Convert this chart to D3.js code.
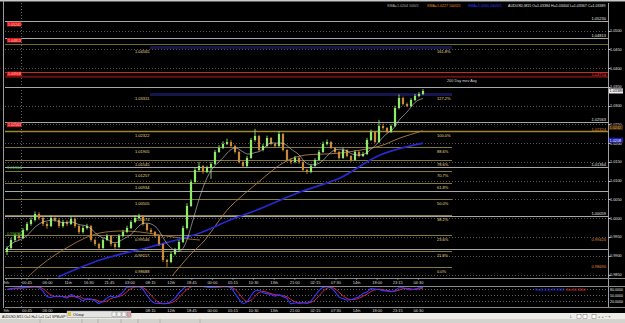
<!DOCTYPE html>
<html><head><meta charset="utf-8">
<script src="https://cdn.jsdelivr.net/npm/d3@7"></script>
<style>
html,body{margin:0;padding:0;background:#000;overflow:hidden}
svg{display:block}
text{font-family:"Liberation Sans",Arial,sans-serif}
</style></head><body>
<svg id="c" width="625" height="323"></svg>
<script>
// ---------- DATA ----------
const firstOpen = 0.99100;
const closes = [0.99206,0.99419,0.99526,0.99473,0.99686,0.99846,0.99952,1.00112,1.00005,0.99846,
0.99792,1.00005,0.99952,0.99792,0.99899,0.99846,0.99979,0.99792,0.99633,0.99739,
0.99792,0.99419,0.99313,0.99206,0.99419,0.99526,0.99313,0.99233,0.99526,0.99633,
0.99739,0.99899,1.00005,1.00059,0.99846,0.99686,0.99633,0.99526,0.99313,0.98887,
0.98833,0.99046,0.99153,0.99366,0.99739,1.00325,1.00965,1.01284,1.01391,1.01231,
1.01337,1.01444,1.01764,1.01870,1.01977,1.02030,1.01924,1.01764,1.01497,1.01391,
1.01604,1.02083,1.02190,1.01817,1.01924,1.02137,1.01977,1.01924,1.02243,1.01817,
1.01551,1.01497,1.01604,1.01497,1.01284,1.01231,1.01391,1.01551,1.01764,1.01977,
1.02030,1.01870,1.01764,1.01604,1.01817,1.01657,1.01551,1.01764,1.01657,1.01710,
1.02083,1.02297,1.02030,1.02456,1.02403,1.02297,1.02456,1.02936,1.03202,1.03042,
1.02989,1.03149,1.03256,1.03309,1.03389];
const highs = [0.9926,0.9948,0.9958,0.9960,0.9974,0.9990,1.0002,1.0018,1.0016,1.0004,
0.9990,1.0007,1.0006,1.0000,0.9996,0.9995,1.0004,1.0002,0.9983,0.9980,
0.9985,0.9982,0.9946,0.9935,0.9947,0.9958,0.9955,0.9934,0.9958,0.9969,
0.9980,0.9995,1.0008,1.0012,1.0008,0.9987,0.9974,0.9966,0.9955,0.9933,
0.9892,0.9910,0.9921,0.9942,0.9980,1.0040,1.0103,1.0135,1.0150,1.0142,
1.0140,1.0150,1.0182,1.0195,1.0205,1.0212,1.0208,1.0196,1.0180,1.0152,
1.0166,1.0214,1.0238,1.0222,1.0198,1.0220,1.0216,1.0201,1.0232,1.0227,
1.0184,1.0160,1.0166,1.0164,1.0152,1.0132,1.0144,1.0160,1.0182,1.0204,
1.0210,1.0206,1.0190,1.0180,1.0188,1.0184,1.0168,1.0182,1.0179,1.0177,
1.0214,1.0236,1.0232,1.0262,1.0252,1.0243,1.0250,1.0300,1.0330,1.0324,
1.0308,1.0320,1.0331,1.0336,1.0344];
const lows = [0.9902,0.9916,0.9937,0.9942,0.9944,0.9965,0.9980,0.9991,0.9995,0.9979,
0.9972,0.9976,0.9990,0.9974,0.9975,0.9979,0.9982,0.9974,0.9958,0.9959,
0.9970,0.9937,0.9926,0.9915,0.9918,0.9939,0.9925,0.9918,0.9920,0.9950,
0.9960,0.9971,0.9987,0.9998,0.9980,0.9964,0.9958,0.9948,0.9926,0.9883,
0.9870,0.9880,0.9901,0.9912,0.9934,0.9970,1.0030,1.0094,1.0124,1.0118,
1.0120,1.0105,1.0142,1.0174,1.0184,1.0195,1.0188,1.0172,1.0146,1.0134,
1.0136,1.0158,1.0204,1.0178,1.0178,1.0189,1.0194,1.0188,1.0190,1.0178,
1.0151,1.0144,1.0146,1.0145,1.0124,1.0118,1.0120,1.0137,1.0153,1.0174,
1.0194,1.0184,1.0172,1.0156,1.0158,1.0162,1.0150,1.0153,1.0162,1.0163,
1.0168,1.0205,1.0200,1.0200,1.0236,1.0226,1.0227,1.0243,1.0290,1.0300,
1.0296,1.0297,1.0312,1.0322,1.0328];

// moving averages: [candle index, price]
const smaSlowIdx   = [41.25,45.75,49.5,52.75,55.75,62,69,73.25,83.25,93.25,98.25,104];
const smaSlowPrice = [0.98460,0.99020,0.99419,0.99899,1.00299,1.00885,1.01471,1.01657,1.01737,1.01924,1.02137,1.02330];
const smaOldIdx    = [5.25,8.25,12,15.75,19.5,23.25,28.25,33.25,38.25,43.25,48.25];
const smaOldPrice  = [0.98434,0.98727,0.99020,0.99260,0.99473,0.99606,0.99659,0.99633,0.99553,0.99473,0.99419];
const sma200Idx    = [12.75,23.25,35.75,48.25,55.75,62.5,73.25,83.25,93.25,104];
const sma200Price  = [0.98434,0.98887,0.99233,0.99606,0.99952,1.00219,1.00698,1.01071,1.01684,1.02003];

const fibPct   = ["0.0%","11.8%","23.6%","38.2%","50.0%","61.8%","70.7%","78.6%","88.6%","100.0%","127.2%","161.8%"];
const fibPrice = [0.98688,0.99117,0.99546,1.00074,1.00505,1.00934,1.01257,1.01545,1.01905,1.02322,1.03311,1.04565];

const srPrice  = [1.05241,1.04813,1.04641,1.03503,1.02563,1.01364,1.00722,1.00059,0.99180];
const srLabel  = ["1.05230","1.04813","","","1.02563","1.01364","","1.00059",""];
const alertPrice = [1.05241,1.04813,1.03918,1.02563];
const redLinePrice = 1.03904, darkRedPrice = 1.03771;
const rightOrangeLabels = ["0.99420","0.98690"];
const rightOrangePrice  = [0.99420,0.98690];
const greenLabels = ["1.01364","0.99695"];
const greenPrice  = [1.01350,0.99600];

const priceTicks = [1.0500,1.0450,1.0400,1.0350,1.0300,1.0250,1.0200,1.0150,1.0100,1.0050,1.0000,0.9950,0.9900,0.9850];
const timeLabels = ["9th","00:45","06:00","11th","16:30","21:45","03:00","08:15","12th","18:45","00:00","05:15","10:30","13th","21:00","02:15","07:30","14th","18:00","23:15","04:30"];
const oscLevels = [80,50,20];

// ---------- SETUP ----------
const svg = d3.select("#c");
const L = 5, R = 608, T = 3, B = 278;
const x = d3.scaleLinear().domain([0,104]).range([7,423]);
const y = d3.scaleLinear().domain([0.98407,1.05733]).range([B,T]);
const oy = d3.scaleLinear().domain([20,80]).range([301,289]);

svg.append("rect").attr("width",625).attr("height",323).attr("fill","#000");
svg.append("rect").attr("x",0).attr("y",0).attr("width",625).attr("height",1.5).attr("fill","#c8c8c8");
svg.append("line").attr("x1",3.5).attr("x2",3.5).attr("y1",1).attr("y2",308).attr("stroke","#9a9a9a");

const g = svg.append("g");
g.selectAll(".grid").data(priceTicks).join("line")
  .attr("x1",L).attr("x2",R).attr("y1",d=>Math.round(y(d))+0.5).attr("y2",d=>Math.round(y(d))+0.5)
  .attr("stroke","#6a6a6a").attr("stroke-dasharray","1,2").attr("stroke-width",0.8);
g.append("line").attr("x1",21.5).attr("x2",21.5).attr("y1",T).attr("y2",307)
  .attr("stroke","#7a7a7a").attr("stroke-dasharray","1,2").attr("stroke-width",0.8);

g.selectAll(".sr").data(srPrice).join("line")
  .attr("x1",L).attr("x2",R).attr("y1",d=>Math.round(y(d))+0.5).attr("y2",d=>Math.round(y(d))+0.5)
  .attr("stroke",(d,i)=> i===2 ? "#6e6a30" : "#a8a8a8").attr("stroke-width",1);

g.append("line").attr("x1",L).attr("x2",R).attr("y1",Math.round(y(redLinePrice))+0.5).attr("y2",Math.round(y(redLinePrice))+0.5)
  .attr("stroke","#d02828").attr("stroke-width",1);
g.append("line").attr("x1",L).attr("x2",R).attr("y1",y(darkRedPrice)).attr("y2",y(darkRedPrice))
  .attr("stroke","#6a1010").attr("stroke-width",2);
g.append("text").attr("x",447).attr("y",y(darkRedPrice)+5).attr("font-size",3.8).attr("fill","#d8d8d8").text("200 Day mov Avg");

fibPrice.forEach((p,i)=>{
  const yy = Math.round(y(p))+0.5;
  const ext = i>=10;
  if (ext) {
    g.append("rect").attr("x",150).attr("y",yy-1.5).attr("width",302).attr("height",3).attr("fill","#16164e");
  } else {
    g.append("line").attr("x1",L).attr("x2",i===9?R:452).attr("y1",yy).attr("y2",yy)
      .attr("stroke", i===9 ? "#a08828" : "#857a3c").attr("stroke-width", i===9?1.4:1);
  }
  g.append("text").attr("x",135).attr("y",yy+5).attr("font-size",4).attr("fill","#e6dc8c").text(p.toFixed(5));
  g.append("text").attr("x",437).attr("y",yy+5).attr("font-size",4).attr("fill","#e6dc8c").text(fibPct[i]);
});

const lineGen = d3.line().x(d=>x(d[0])).y(d=>y(d[1])).curve(d3.curveCatmullRom);
g.append("path").attr("d",lineGen(d3.zip(smaOldIdx,smaOldPrice))).attr("fill","none").attr("stroke","#a87840").attr("stroke-width",0.9);
g.append("path").attr("d",lineGen(d3.zip(smaSlowIdx,smaSlowPrice))).attr("fill","none").attr("stroke","#b08048").attr("stroke-width",0.9);
g.append("path").attr("d",lineGen(d3.zip(sma200Idx,sma200Price))).attr("fill","none").attr("stroke","#2828d0").attr("stroke-width",1.8);

const candles = closes.map((c,i)=>({i, o: i===0?firstOpen:closes[i-1], c, h: highs[i], l: lows[i]}));
const cg = g.append("g");
cg.selectAll(".wick").data(candles).join("line")
  .attr("x1",d=>x(d.i)).attr("x2",d=>x(d.i)).attr("y1",d=>y(d.h)).attr("y2",d=>y(d.l))
  .attr("stroke",d=>d.c>=d.o?"#a8f488":"#d8953e").attr("stroke-width",0.8);
cg.selectAll(".body").data(candles).join("rect")
  .attr("x",d=>x(d.i)-1.1).attr("width",2.2)
  .attr("y",d=>y(Math.max(d.o,d.c))).attr("height",d=>Math.max(0.8,Math.abs(y(d.o)-y(d.c))))
  .attr("fill",d=>d.c>=d.o?"#8fea6c":"#c98a3a");

const fast = closes.map((c,i)=>[i, d3.mean(closes.slice(Math.max(0,i-5),i+1))]);
g.append("path").attr("d",d3.line().x(d=>x(d[0])).y(d=>y(d[1])).curve(d3.curveBasis)(fast))
  .attr("fill","none").attr("stroke","#d0d0d0").attr("stroke-width",0.6);

srPrice.forEach((p,i)=>{ if(srLabel[i]) g.append("text").attr("x",606).attr("y",Math.round(y(p))-1).attr("text-anchor","end").attr("font-size",4).attr("fill","#e8e8e8").text(srLabel[i]); });
g.append("text").attr("x",606).attr("y",y(redLinePrice)+4.5).attr("text-anchor","end").attr("font-size",4).attr("fill","#ff4040").text("1.03716");
g.append("text").attr("x",606).attr("y",y(fibPrice[9])-0.5).attr("text-anchor","end").attr("font-size",4).attr("fill","#e08a30").text("1.02324");
rightOrangePrice.forEach((p,i)=> g.append("text").attr("x",606).attr("y",y(p)+1).attr("text-anchor","end").attr("font-size",4).attr("fill","#e08a30").text(rightOrangeLabels[i]));

alertPrice.forEach(p=>{
  const yy = y(p);
  g.append("rect").attr("x",7).attr("y",yy+0.5).attr("width",14.5).attr("height",4.5).attr("fill","#e01818");
  g.append("text").attr("x",8).attr("y",yy+4.3).attr("font-size",3.6).attr("fill","#ffd0d0").text(p.toFixed(5));
});
greenPrice.forEach((p,i)=> g.append("text").attr("x",7).attr("y",y(p)+1.5).attr("font-size",4).attr("fill","#3cc83c").text(greenLabels[i]));

const hdr = [["SMA=1.0204 10/0/1","#b0b0b0",387],["SMA=1.0227 100/0/1","#e08a20",427],["SMA=1.0200 200/0/1","#3a3aff",468],["AUDUSD,M15 O=1.03384 H=1.03404 L=1.03367 C=1.03389","#e0e0e0",508]];
hdr.forEach(h=> svg.append("text").attr("x",h[2]).attr("y",7).attr("font-size",3.6).attr("fill",h[1]).text(h[0]));

svg.append("line").attr("x1",R+0.5).attr("x2",R+0.5).attr("y1",T).attr("y2",307).attr("stroke","#a0a0a0");
priceTicks.forEach(p=>{
  svg.append("line").attr("x1",R).attr("x2",R+2.5).attr("y1",Math.round(y(p))+0.5).attr("y2",Math.round(y(p))+0.5).attr("stroke","#bbb");
  svg.append("text").attr("x",610).attr("y",y(p)+1.5).attr("font-size",3.8).attr("fill","#e0e0e0").text(p.toFixed(4));
});
const lastC = closes[closes.length-1];
svg.append("rect").attr("x",609).attr("y",y(lastC)-2.5).attr("width",14).attr("height",5).attr("fill","#f0f0f0");
svg.append("text").attr("x",609.5).attr("y",y(lastC)+1.5).attr("font-size",3.8).attr("fill","#000").text(lastC.toFixed(5));
svg.append("rect").attr("x",609).attr("y",y(1.02420)-2.5).attr("width",14).attr("height",5).attr("fill","#3a2a10");
svg.append("text").attr("x",609.5).attr("y",y(1.02420)+1.5).attr("font-size",3.8).attr("fill","#f09a30").text("1.0242");
svg.append("rect").attr("x",609).attr("y",y(1.02080)-2.5).attr("width",14).attr("height",5).attr("fill","#1a1ab0");
svg.append("text").attr("x",609.5).attr("y",y(1.02080)+1.5).attr("font-size",3.8).attr("fill","#fff").text("1.0208");

svg.append("line").attr("x1",L).attr("x2",625).attr("y1",B+0.5).attr("y2",B+0.5).attr("stroke","#8a8a8a").attr("stroke-width",1.2);
const tIdx = timeLabels.map((t,k)=> -0.15 + 5.15*k);
timeLabels.forEach((t,k)=>{
  const xx = x(tIdx[k]);
  svg.append("text").attr("x",xx).attr("y",284).attr("text-anchor","middle").attr("font-size",4).attr("fill","#dedede").text(t);
  svg.append("line").attr("x1",xx).attr("x2",xx).attr("y1",B).attr("y2",B+2).attr("stroke","#aaa").attr("stroke-width",0.6);
  if (xx < 60 || xx > 138)
    svg.append("text").attr("x",xx).attr("y",312).attr("text-anchor","middle").attr("font-size",4).attr("fill","#dedede").text(t);
});

svg.append("line").attr("x1",L).attr("x2",625).attr("y1",286.5).attr("y2",286.5).attr("stroke","#8a8a8a");
svg.append("line").attr("x1",L).attr("x2",625).attr("y1",307.5).attr("y2",307.5).attr("stroke","#8a8a8a");
oscLevels.forEach(v=>{
  svg.append("line").attr("x1",L).attr("x2",R).attr("y1",Math.round(oy(v))+0.5).attr("y2",Math.round(oy(v))+0.5)
    .attr("stroke","#7a7a7a").attr("stroke-dasharray","1,2").attr("stroke-width",0.8);
  svg.append("text").attr("x",610).attr("y",oy(v)+1.5).attr("font-size",3.6).attr("fill","#e0e0e0").text(v.toFixed(4));
});
const raw = candles.map((d,i)=>{
  const lo = d3.min(lows.slice(Math.max(0,i-4),i+1)), hi = d3.max(highs.slice(Math.max(0,i-4),i+1));
  return hi>lo ? (d.c-lo)/(hi-lo)*100 : 50;
});
const kLine = raw.map((v,i)=> d3.mean(raw.slice(Math.max(0,i-2),i+1)));
const dLine = kLine.map((v,i)=> d3.mean(kLine.slice(Math.max(0,i-2),i+1)));
svg.append("clipPath").attr("id","oc").append("rect").attr("x",L).attr("y",287).attr("width",R-L).attr("height",20);
const og = svg.append("g").attr("clip-path","url(#oc)");
const ol = d3.line().x((v,i)=>x(i)).y(v=>oy(v)).curve(d3.curveMonotoneX);
og.append("path").attr("d",ol(dLine)).attr("fill","none").attr("stroke","#d02050").attr("stroke-width",1);
og.append("path").attr("d",ol(kLine)).attr("fill","none").attr("stroke","#3838ff").attr("stroke-width",1.1);
svg.append("text").attr("x",535).attr("y",290.5).attr("font-size",3.6).attr("fill","#3a3aff").text("Sto(5,3,3) " + kLine[kLine.length-1].toFixed(4));
svg.append("text").attr("x",566).attr("y",290.5).attr("font-size",3.6).attr("fill","#e03030").text("Sto " + dLine[dLine.length-1].toFixed(4));

svg.append("rect").attr("x",0).attr("y",313).attr("width",625).attr("height",10).attr("fill","#ecebe6");
svg.append("rect").attr("x",0).attr("y",319).attr("width",625).attr("height",4).attr("fill","#d4d3ce");
[40,82,98,121,138,160,200].forEach(v=> svg.append("line").attr("x1",v).attr("x2",v).attr("y1",319).attr("y2",323).attr("stroke","#9a9a9a").attr("stroke-width",0.6));
svg.append("text").attr("x",2).attr("y",317.5).attr("font-size",3.3).attr("fill","#111").text("AUDUSD,M15 O=1 H=1 L=1 C=1 SPM=SP");
svg.append("rect").attr("x",67).attr("y",311).attr("width",64).attr("height",6.5).attr("fill","#e4e4e4").attr("stroke","#8a8a8a").attr("stroke-width",0.5);
svg.append("rect").attr("x",68).attr("y",312).attr("width",3).attr("height",4).attr("fill","#e0c040");
svg.append("text").attr("x",73).attr("y",316).attr("font-size",3.8).attr("fill","#222").text("Обзор");
[112,117,122].forEach(v=> svg.append("rect").attr("x",v).attr("y",312).attr("width",4).attr("height",4.5).attr("fill","#f4f4f4").attr("stroke","#777").attr("stroke-width",0.4));
svg.append("rect").attr("x",127).attr("y",312).attr("width",3.5).attr("height",4.5).attr("fill","#e8a0a0").attr("stroke","#777").attr("stroke-width",0.4);
svg.append("text").attr("x",570).attr("y",318).attr("font-size",4).attr("fill","#2a5ad0").text("L");
[577,583,592].forEach(v=> svg.append("rect").attr("x",v).attr("y",314.5).attr("width",4).attr("height",4).attr("fill","#fff").attr("stroke","#555").attr("stroke-width",0.4));
svg.append("text").attr("x",598).attr("y",318).attr("font-size",4).attr("fill","#333").text("+ + − ×");
</script>
</body></html>
